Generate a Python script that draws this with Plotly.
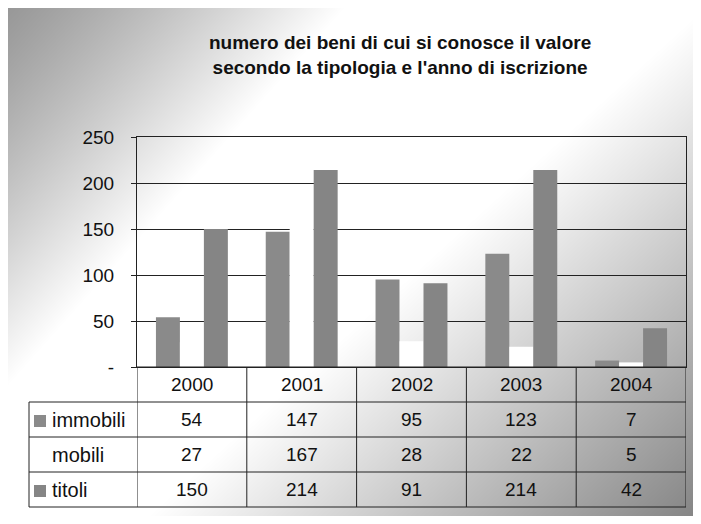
import base64, struct, zlib
import numpy as np
import plotly.graph_objects as go

# ---------------- data ----------------
years = ["2000", "2001", "2002", "2003", "2004"]
immobili = [54, 147, 95, 123, 7]
mobili = [27, 167, 28, 22, 5]
titoli = [150, 214, 91, 214, 42]
series_names = ["immobili", "mobili", "titoli"]
y_ticks = [0, 50, 100, 150, 200, 250]
y_ticktext = ["-", "50", "100", "150", "200", "250"]

# ---------------- layout constants ----------------
OFF = 8                      # the page body margin offsets the figure by 8px
W, H = 693, 508
ML, MR, MT, MB = 129, 15, 129, 149
PW, PH = W - ML - MR, H - MT - MB
FONT = "Liberation Sans, Arial, sans-serif"
colors = {"immobili": "#8a8a8a", "mobili": "#ffffff", "titoli": "#858585"}


def px(pxx):  # page pixel -> paper x
    return (pxx - OFF - ML) / PW


def py(pyy):  # page pixel -> paper y
    return 1 - (pyy - OFF - MT) / PH


# ---------------- background gradient (png data uri) ----------------
def gradient_png(w, h):
    xs = (np.arange(w)[None, :] + OFF) / 701
    ys = (np.arange(h)[:, None] + OFF) / 524
    g = np.full((h, w), 255.0)
    u1 = 0.6 * xs + 0.4 * ys
    lo = u1 < 0.3
    g[lo] = 150 + (255 - 150) * (u1[lo] / 0.3) ** 1.2
    u2 = 0.55 * xs + 0.45 * ys
    hi = u2 > 0.56
    g[hi] = 255 - (255 - 130) * ((u2[hi] - 0.56) / 0.44)
    img = np.clip(g, 0, 255).astype(np.uint8)
    raw = b"".join(b"\x00" + img[r].tobytes() for r in range(h))

    def chunk(t, d):
        c = struct.pack(">I", len(d)) + t + d
        return c + struct.pack(">I", zlib.crc32(t + d) & 0xFFFFFFFF)

    png = b"\x89PNG\r\n\x1a\n" + chunk(b"IHDR", struct.pack(">IIBBBBB", w, h, 8, 0, 0, 0, 0))
    png += chunk(b"IDAT", zlib.compress(raw, 9)) + chunk(b"IEND", b"")
    return "data:image/png;base64," + base64.b64encode(png).decode()


fig = go.Figure()
values = {"immobili": immobili, "mobili": mobili, "titoli": titoli}
for name in series_names:
    fig.add_trace(go.Bar(
        x=years, y=values[name], name=name,
        marker=dict(color=colors[name], line=dict(width=0)),
        showlegend=False,
    ))

shapes = []
annotations = []

# table geometry (page pixels)
row_px = [367, 402, 437, 472, 507]
ry = [py(p) for p in row_px]
left_x = px(29)

line = dict(color="#222", width=1)
shapes.append(dict(type="line", xref="x", yref="paper", x0=-0.5, x1=4.5, y0=ry[0], y1=ry[0], line=line))
for yy in ry[1:]:
    shapes.append(dict(type="line", xref="paper", yref="paper", x0=left_x, x1=1, y0=yy, y1=yy, line=line))
for i in range(len(years) + 1):
    shapes.append(dict(type="line", xref="x", yref="paper", x0=i - 0.5, x1=i - 0.5, y0=ry[0], y1=ry[-1], line=line))
shapes.append(dict(type="line", xref="paper", yref="paper", x0=left_x, x1=left_x, y0=ry[1], y1=ry[-1], line=line))

tfont = dict(family=FONT, size=19, color="#111")
lfont = dict(family=FONT, size=20, color="#111")
for i, yr in enumerate(years):
    annotations.append(dict(x=i, y=(ry[0] + ry[1]) / 2, xref="x", yref="paper", text=yr,
                            showarrow=False, font=tfont, xanchor="center", yanchor="middle"))
for r, name in enumerate(series_names):
    yc = (ry[r + 1] + ry[r + 2]) / 2
    for i, v in enumerate(values[name]):
        annotations.append(dict(x=i, y=yc, xref="x", yref="paper", text=str(v),
                                showarrow=False, font=tfont, xanchor="center", yanchor="middle"))
    annotations.append(dict(x=px(50), y=yc, xref="paper", yref="paper", text=name,
                            showarrow=False, font=lfont, xanchor="left", yanchor="middle"))
    hk = 6 / PH
    shapes.append(dict(type="rect", xref="paper", yref="paper", x0=px(34), x1=px(46),
                       y0=yc - hk - 1.5 / PH, y1=yc + hk - 1.5 / PH,
                       fillcolor=colors[name], line=dict(width=0)))

# title
annotations.append(dict(
    x=px(400), y=py(55), xref="paper", yref="paper",
    text="<b>numero dei beni di cui si conosce il valore</b><br><b>secondo la tipologia e l'anno di iscrizione</b>",
    showarrow=False, font=dict(family=FONT, size=19, color="#111"), xanchor="center", yanchor="middle",
))

fig.update_layout(
    width=W, height=H,
    margin=dict(l=ML, r=MR, t=MT, b=MB, pad=0),
    paper_bgcolor="white", plot_bgcolor="rgba(0,0,0,0)",
    barmode="group", bargap=0.345, bargroupgap=0,
    font=dict(family=FONT, size=19, color="#111"),
    shapes=shapes, annotations=annotations,
    images=[dict(source=gradient_png(W, H), xref="paper", yref="paper",
                 x=-ML / PW, y=1 + MT / PH, sizex=W / PW, sizey=H / PH,
                 sizing="stretch", layer="below", xanchor="left", yanchor="top")],
    xaxis=dict(type="category", range=[-0.5, 4.5], showticklabels=False, ticks="", showgrid=False,
               showline=True, mirror=True, linecolor="#222", linewidth=1, zeroline=False),
    yaxis=dict(range=[0, 250], tickvals=y_ticks, ticktext=y_ticktext, showgrid=True,
               gridcolor="#222", gridwidth=1, showline=True, mirror=True, linecolor="#222",
               ticks="outside", ticklen=5, tickcolor="#222", ticklabelstandoff=13,
               zeroline=False, tickfont=dict(family=FONT, size=19, color="#111")),
)

fig.write_html("out.html")
